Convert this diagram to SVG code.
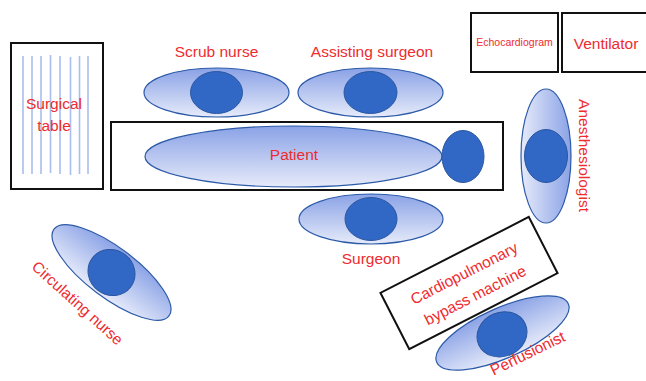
<svg xmlns="http://www.w3.org/2000/svg" width="646" height="381" viewBox="0 0 646 381">
<defs>
<linearGradient id="bodyGrad" x1="0" y1="0" x2="0" y2="1">
<stop offset="0" stop-color="#8aa2e6"/>
<stop offset="1" stop-color="#e6ebfa"/>
</linearGradient>
</defs>
<style>
.lbl{font-family:"Liberation Sans",Arial,sans-serif;font-size:15.5px;fill:#ee2b2f;text-anchor:middle}
.box{fill:none;stroke:#111;stroke-width:2}
.body{fill:url(#bodyGrad);stroke:#2c5aa8;stroke-width:1.2}
.head{fill:#3168c5;stroke:#2a56a0;stroke-width:1}
.slat{stroke:#a9bdee;stroke-width:1.6}
</style>
<rect width="646" height="381" fill="#fff"/>

<g id="surgical-table">
<rect class="box" x="11" y="43" width="92" height="146"/>
<g>
<line class="slat" x1="23" y1="56" x2="23" y2="174"/>
<line class="slat" x1="32" y1="56" x2="32" y2="174"/>
<line class="slat" x1="41" y1="56" x2="41" y2="174"/>
<line class="slat" x1="50.5" y1="55" x2="50.5" y2="173"/>
<line class="slat" x1="60" y1="56" x2="60" y2="174"/>
<line class="slat" x1="70.5" y1="57" x2="70.5" y2="175"/>
<line class="slat" x1="79.5" y1="56" x2="79.5" y2="174"/>
<line class="slat" x1="88" y1="56" x2="88" y2="174"/>
</g>
<text class="lbl" x="54" y="108.5">Surgical</text>
<text class="lbl" x="54" y="131">table</text>
</g>

<g id="patient">
<rect class="box" x="111" y="122" width="392" height="68"/>
<ellipse class="body" cx="293.5" cy="156.5" rx="148.5" ry="30.5"/>
<ellipse class="head" cx="463" cy="156.5" rx="21" ry="26"/>
<text class="lbl" x="294" y="159.5">Patient</text>
</g>

<g id="scrub-nurse">
<g transform="translate(216.5,92.5)">
<ellipse class="body" rx="72.5" ry="24.5"/>
<ellipse class="head" rx="26" ry="21"/>
</g>
<text class="lbl" x="216.5" y="56.5">Scrub nurse</text>
</g>

<g id="assisting-surgeon">
<g transform="translate(370.5,92.5)">
<ellipse class="body" rx="72.5" ry="24.5"/>
<ellipse class="head" rx="26.5" ry="21"/>
</g>
<text class="lbl" x="372" y="56.5">Assisting surgeon</text>
</g>

<g id="surgeon">
<g transform="translate(371,219)">
<ellipse class="body" rx="72" ry="25"/>
<ellipse class="head" rx="26" ry="21.5"/>
</g>
<text class="lbl" x="371" y="264">Surgeon</text>
</g>

<g id="anesthesiologist">
<g transform="translate(546,156) rotate(90)">
<ellipse class="body" rx="67" ry="25"/>
<ellipse class="head" rx="26.5" ry="21.5"/>
</g>
<text class="lbl" transform="translate(578.5,155.5) rotate(90)">Anesthesiologist</text>
</g>

<g id="echocardiogram">
<rect class="box" x="471" y="13" width="87" height="59"/>
<text class="lbl" x="514.5" y="46" style="font-size:10.5px">Echocardiogram</text>
</g>

<g id="ventilator">
<rect class="box" x="562" y="13" width="90" height="59"/>
<text class="lbl" x="606" y="48.5">Ventilator</text>
</g>

<g id="circulating-nurse">
<g transform="translate(111.5,272.5) rotate(37)">
<ellipse class="body" rx="72" ry="25"/>
<ellipse class="head" rx="24" ry="22.5"/>
</g>
<text class="lbl" transform="translate(74,307) rotate(42)">Circulating nurse</text>
</g>

<g id="cardiopulmonary-bypass-machine">
<g transform="translate(469,283) rotate(-27.1)">
<rect class="box" x="-83.3" y="-31.6" width="166.6" height="63.2"/>
<text class="lbl" x="0" y="-5.5">Cardiopulmonary</text>
<text class="lbl" x="0" y="19">bypass machine</text>
</g>
</g>

<g id="perfusionist">
<g transform="translate(502.5,333) rotate(-24)">
<ellipse class="body" rx="72" ry="25"/>
<ellipse class="head" cx="-1" cy="1" rx="25.5" ry="22"/>
</g>
<text class="lbl" transform="translate(530,358) rotate(-26)">Perfusionist</text>
</g>

<g id="connectors"></g>
</svg>
